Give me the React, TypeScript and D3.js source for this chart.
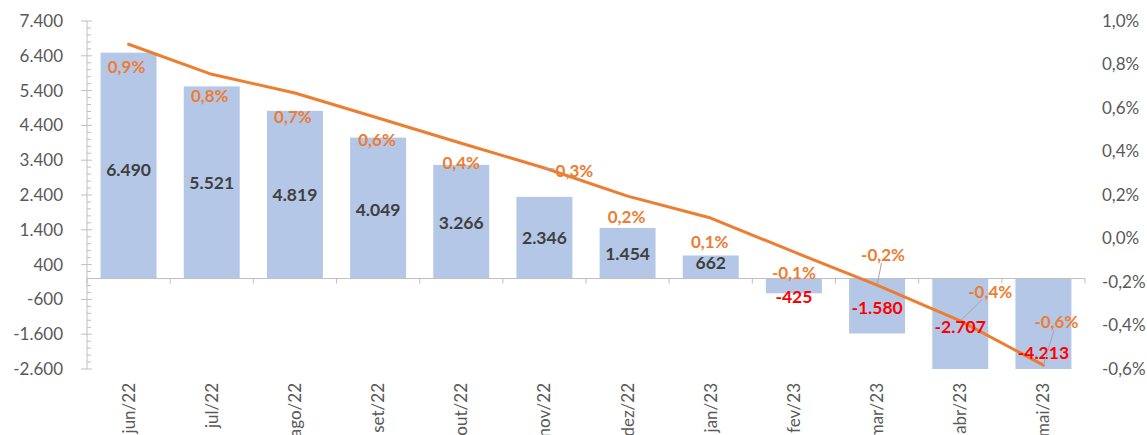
import React from "react";
import * as d3 from "d3";

// months
const categories = [
  "jun/22", "jul/22", "ago/22", "set/22", "out/22", "nov/22",
  "dez/22", "jan/23", "fev/23", "mar/23", "abr/23", "mai/23",
];
// bar series (left axis)
const barValues = [6490, 5521, 4819, 4049, 3266, 2346, 1454, 662, -425, -1580, -2707, -4213];
// line series (right axis, fraction)
const lineValues = [
  0.00893, 0.00755, 0.00669, 0.00554, 0.00438, 0.00324,
  0.00195, 0.00094, -0.00062, -0.00214, -0.00379, -0.00582,
];
const leftTicks = [-2600, -1600, -600, 400, 1400, 2400, 3400, 4400, 5400, 6400, 7400];
const rightTicks = [-0.006, -0.004, -0.002, 0, 0.002, 0.004, 0.006, 0.008, 0.01];

// manual label nudges (px), like the hand-moved labels in the source chart
const valueNudge = [4, 0, 0, 2, 1, 0, 1, -4, 11, 2, 3, 29];
const pctNudge: [number, number][] = [
  [-2, 1], [-2, 0], [-2, 2], [-1, 0], [0, -2], [30, -19],
  [-1, -1], [-1, 2], [0, -1], [6, -52], [30, -51], [13, -65],
];

const W = 1147, H = 435;
const left = 87, right = 1085, top = 21, bottom = 369;

const locale = d3.formatLocale({
  decimal: ",", thousands: ".", grouping: [3], currency: ["R$", ""], minus: "-",
});
const fmtInt = locale.format(",d");
const fmtPct = locale.format(".1%");

const font = "Lato, 'Liberation Sans', Arial, sans-serif";
const gray = "#595959";
const axisCol = "#BFBFBF";
const orange = "#ED7D31";

export default function App() {
  const x = d3.scaleBand<string>().domain(categories).range([left, right])
    .paddingInner(0.327).paddingOuter(0.1635);
  const yL = d3.scaleLinear().domain([-2600, 7400]).range([bottom, top]).clamp(true);
  const yR = d3.scaleLinear().domain([-0.006, 0.01]).range([bottom, top]);
  const cx = (c: string) => (x(c) as number) + x.bandwidth() / 2;
  const y0 = yL(0);

  const minor = d3.range(-2600, 7401, 200).filter((v) => (v + 2600) % 1000 !== 0);

  const line = d3.line<number>()
    .x((_, i) => cx(categories[i]))
    .y((d) => yR(d));

  return (
    <svg width={W} height={H} style={{ position: "absolute", left: 0, top: 0, background: "#fff" }}
      fontFamily={font}>
      {/* bars */}
      {barValues.map((v, i) => (
        <rect key={"b" + i} x={x(categories[i])} width={x.bandwidth()}
          y={Math.min(yL(v), y0)} height={Math.abs(yL(v) - y0)} fill="#B4C7E7" />
      ))}

      {/* left axis */}
      <line x1={left} x2={left} y1={top} y2={bottom} stroke={axisCol} />
      {leftTicks.map((t) => (
        <g key={"l" + t}>
          <line x1={left - 6} x2={left + 5} y1={yL(t)} y2={yL(t)} stroke={axisCol} />
          <text x={63} y={yL(t)} dy="0.35em" textAnchor="end" fontSize={17} fill={gray}>
            {fmtInt(t)}
          </text>
        </g>
      ))}
      {minor.map((t) => (
        <line key={"m" + t} x1={left} x2={left + 4} y1={yL(t)} y2={yL(t)} stroke={axisCol} />
      ))}

      {/* right axis labels */}
      {rightTicks.map((t) => (
        <text key={"r" + t} x={1102} y={yR(t)} dy="0.35em" fontSize={17} fill={gray}>
          {fmtPct(t)}
        </text>
      ))}

      {/* category axis */}
      <line x1={left} x2={right} y1={y0} y2={y0} stroke={axisCol} />
      {d3.range(categories.length + 1).map((i) => {
        const xx = left + i * x.step();
        return <line key={"t" + i} x1={xx} x2={xx} y1={y0} y2={y0 + 5} stroke={axisCol} />;
      })}
      {categories.map((c) => (
        <text key={"c" + c} transform={`translate(${cx(c)},383) rotate(-90)`} dy="0.35em"
          textAnchor="end" fontSize={17} fill={gray}>
          {c}
        </text>
      ))}

      {/* line */}
      <path d={line(lineValues) || ""} fill="none" stroke={orange} strokeWidth={3}
        strokeLinejoin="round" strokeLinecap="round" />

      {/* value labels */}
      {barValues.map((v, i) => {
        const yy = (Math.min(yL(v), y0) + Math.max(yL(v), y0)) / 2 + valueNudge[i];
        return (
          <text key={"v" + i} x={cx(categories[i])} y={yy} dy="0.35em" textAnchor="middle"
            fontSize={17.5} fontWeight="bold" fill={v < 0 ? "#FF0000" : "#404040"}>
            {fmtInt(v)}
          </text>
        );
      })}

      {/* percent labels with leader lines */}
      {lineValues.map((v, i) => {
        const px = cx(categories[i]);
        const py = yR(v);
        const lx = px + pctNudge[i][0];
        const ly = py + 22 + pctNudge[i][1];
        const dx = lx - px, dy = ly - py;
        const moved = Math.hypot(pctNudge[i][0], pctNudge[i][1]) > 15;
        let t = Math.max(Math.abs(dx) > 0 ? 1 - 20 / Math.abs(dx) : 0, Math.abs(dy) > 0 ? 1 - 8 / Math.abs(dy) : 0);
        t = Math.max(0, t);
        return (
          <g key={"p" + i}>
            {moved && (
              <line x1={px} y1={py} x2={px + dx * t} y2={py + dy * t} stroke="#A6A6A6" strokeWidth={1} />
            )}
            <text x={lx} y={ly} dy="0.35em" textAnchor="middle" fontSize={17}
              fontWeight="bold" fill={orange}>
              {fmtPct(Math.round(v * 1000) / 1000)}
            </text>
          </g>
        );
      })}
    </svg>
  );
}
